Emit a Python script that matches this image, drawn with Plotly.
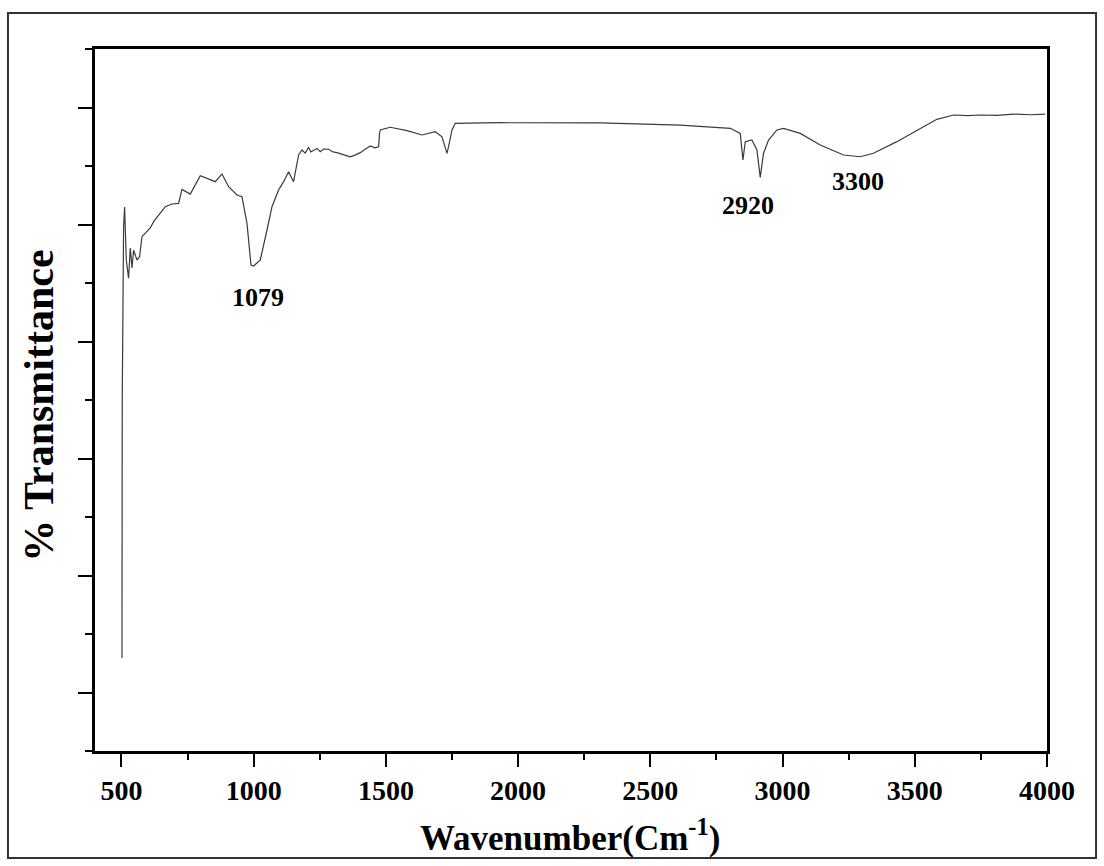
import plotly.graph_objects as go

# Wavenumber (cm^-1) and transmittance (arbitrary % scale)
wavenumber = [502, 503, 508.1, 511.9, 518.4, 527.0, 533.5, 539.9, 545.9, 558.8, 568.6, 577.7,
              590.2, 609.1, 621.6, 646.9, 665.8, 691.1, 716.1, 728.9, 760.3, 798.1, 829.5,
              854.8, 880.2, 905.2, 936.9, 955.8, 974.7, 989.9, 999.7, 1025.0, 1050.4, 1069.3,
              1094.2, 1113.1, 1132.0, 1150.9, 1169.9, 1182.7, 1195, 1207.7, 1216, 1226.6, 1240,
              1251.9, 1265, 1283.3, 1300, 1315.0, 1340, 1365.3, 1385, 1403.1, 1420, 1441.0, 1458,
              1472.4, 1476.1, 1478.8, 1516.6, 1579.7, 1636.4,
              1686.7, 1712.1, 1731.0, 1737.0, 1749.9, 1762.4, 1932.5, 2310.6, 2613.1, 2802.2,
              2840.0, 2850.2, 2858.9, 2884.2, 2903.1, 2915.6, 2928.1, 2947.0, 2978.8, 3003.7,
              3066.9, 3142.5, 3230.6, 3293.5, 3343.8, 3432.3, 3520.3, 3583.5, 3646.5, 3700,
              3747.4, 3810, 3873.3, 3940, 3993.1]
transmittance = [7.95, 30.0, 44.8, 46.5, 41.97, 40.4, 42.99, 41.28, 42.8, 41.97, 42.25, 43.96,
                 44.27, 44.7, 45.24, 45.98, 46.52, 46.75, 46.8, 48.0, 47.6, 49.17, 48.9,
                 48.66, 49.32, 48.23, 47.52, 47.38, 45.1, 41.54, 41.45, 41.97, 44.53, 46.52,
                 47.95, 48.66, 49.51, 48.66, 50.94, 51.37, 51.1, 51.6, 51.2, 51.31, 51.5,
                 51.22, 51.45, 51.43, 51.2, 51.14, 50.95, 50.79, 50.95, 51.14, 51.4, 51.71, 51.55,
                 51.65, 52.79, 53.08, 53.31, 53.02, 52.65,
                 52.93, 52.5, 51.08, 51.65, 53.08, 53.65, 53.7, 53.68, 53.5, 53.22,
                 52.79, 50.51, 52.08, 52.22, 51.37, 49.03, 51.09, 52.22, 53.08, 53.22,
                 52.79, 51.79, 50.94, 50.79, 51.09, 52.08, 53.22, 53.99, 54.36, 54.3,
                 54.36, 54.32, 54.44, 54.38, 54.44]

peak_labels = ["1079", "2920", "3300"]
peak_label_x = [1017, 2870, 3286]
peak_label_y = [38.8, 46.6, 48.7]

x_ticks = [500, 1000, 1500, 2000, 2500, 3000, 3500, 4000]
y_major = [5, 15, 25, 35, 45, 55]

serif = "Liberation Serif"

fig = go.Figure()
fig.add_trace(go.Scatter(x=wavenumber, y=transmittance, mode="lines",
                         line=dict(color="#3a3a3a", width=1.2), showlegend=False))

for t, x, y in zip(peak_labels, peak_label_x, peak_label_y):
    fig.add_annotation(x=x, y=y, text="<b>%s</b>" % t, showarrow=False,
                       font=dict(family=serif, size=26, color="black"))

fig.add_annotation(xref="paper", yref="paper", x=0.499, y=-0.121,
                   text="<b>Wavenumber(Cm<sup>-1</sup>)</b>", showarrow=False,
                   xanchor="center", yanchor="middle",
                   font=dict(family=serif, size=35, color="black"))
fig.add_annotation(xref="paper", yref="paper", x=-0.0588, y=0.492,
                   text="<b>% Transmittance</b>", showarrow=False, textangle=-90,
                   xanchor="center", yanchor="middle",
                   font=dict(family=serif, size=42, color="black"))

fig.update_layout(
    width=1104, height=866,
    margin=dict(l=95, r=57, t=49, b=115),
    paper_bgcolor="white", plot_bgcolor="white",
    font=dict(family=serif, color="black"),
    xaxis=dict(range=[400, 4000], tickvals=x_ticks,
               ticktext=["<b>%d</b>" % v for v in x_ticks],
               tickfont=dict(family=serif, size=28, color="black"),
               ticks="outside", ticklen=13, tickwidth=2, tickcolor="black",
               minor=dict(ticks="outside", ticklen=6, tickwidth=2, tickcolor="black",
                          tick0=750, dtick=500),
               showline=True, linewidth=2.5, linecolor="black", mirror=True,
               showgrid=False, zeroline=False),
    yaxis=dict(range=[0, 60], tickvals=y_major, showticklabels=False,
               ticks="outside", ticklen=14, tickwidth=2, tickcolor="black",
               minor=dict(ticks="outside", ticklen=7, tickwidth=2, tickcolor="black",
                          tick0=0, dtick=10),
               showline=True, linewidth=2.5, linecolor="black", mirror=True,
               showgrid=False, zeroline=False),
)

fig.add_shape(type="rect", xref="paper", yref="paper",
              x0=-0.0914, x1=1.0515, y0=-0.1524, y1=1.0513,
              line=dict(color="#333333", width=2))

fig.write_html("out.html")
